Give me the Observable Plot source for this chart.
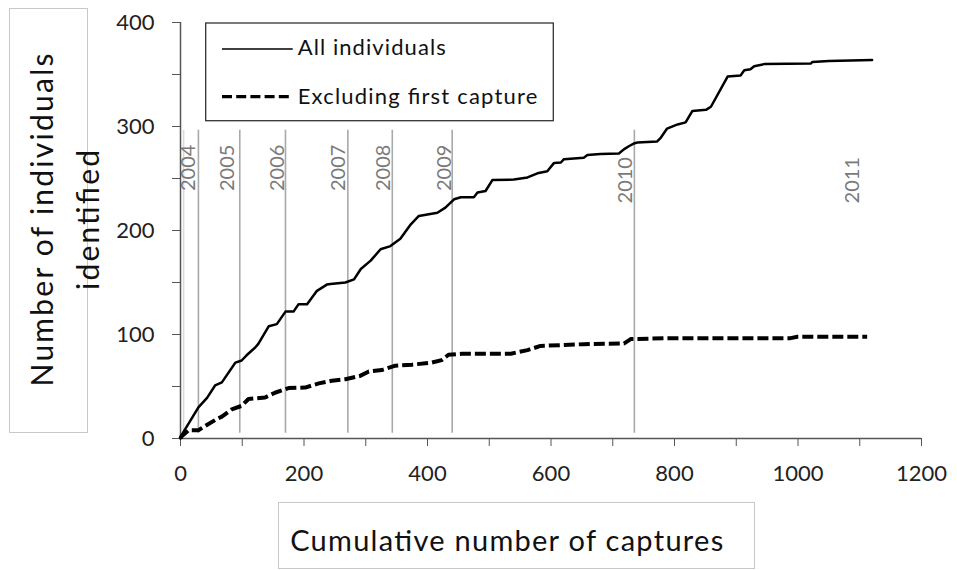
<!DOCTYPE html>
<html><head><meta charset="utf-8">
<script src="https://cdn.jsdelivr.net/npm/d3@7"></script>
<script src="https://cdn.jsdelivr.net/npm/@observablehq/plot@0.6"></script>
<style>
html,body{margin:0;padding:0;background:#fff;}
#chart{width:957px;height:570px;}
</style></head><body><div id="chart"></div>
<script>
// Series: cumulative number of captures (x) vs individuals identified (y)
const allX = [0, 1, 29, 43, 56, 67, 89, 99, 107, 121, 126, 143, 156, 170, 183, 191, 205, 221, 237, 243, 267, 281, 292, 308, 324, 340, 356, 373, 386, 416, 429, 443, 454, 475, 481, 494, 505, 540, 562, 578, 594, 605, 616, 621, 653, 659, 680, 710, 718, 726, 734, 740, 772, 778, 788, 805, 818, 829, 851, 859, 886, 907, 913, 923, 929, 945, 1021, 1023, 1050, 1120];
const allY = [0, 2.6, 30, 39, 51, 54, 73, 75, 80, 87.5, 91, 108, 110, 122, 122, 129, 129, 142, 148, 148.5, 150, 153, 163, 171, 182, 185, 192, 206, 214, 217, 222, 230, 232, 232, 236.5, 238, 248.5, 249, 251, 255, 257, 265, 265.4, 268.6, 270, 272.5, 273.5, 274, 278, 281, 283.6, 284.6, 285.6, 289.4, 298, 302, 304, 315, 316, 319, 348, 349, 354, 355, 358, 360, 360.6, 362, 363, 364];
const exclX = [0, 1, 13, 29, 40, 56, 67, 83, 99, 110, 137, 153, 175, 202, 224, 245, 267, 290, 305, 326, 348, 375, 407, 423, 434, 456, 535, 562, 583, 653, 718, 729, 794, 988, 999, 1112];
const exclY = [0, 1.6, 8, 8, 12, 17.7, 21, 28, 31.4, 38, 39.4, 44, 48.5, 49, 53, 55.5, 57, 60, 64.4, 65.8, 70, 71, 73, 75.4, 80.5, 81.5, 81.5, 85, 89, 90.7, 91.3, 95.6, 96.5, 96.5, 97.8, 97.8];

// Year markers
const years = ["2004", "2005", "2006", "2007", "2008", "2009", "2010", "2011"];
const yearLabelX = [13, 77, 157, 256, 329, 428, 721, 1088];
const yearLabelY = [238, 238, 238, 238, 238, 238, 226, 226];
const yearLineX = [5, 29, 96, 170, 271, 343, 440, 735];

// Axis ticks
const yTicks = [0, 50, 100, 150, 200, 250, 300, 350, 400];
const xTicks = [0, 100, 200, 300, 400, 500, 600, 700, 800, 900, 1000, 1100, 1200];

const seriesNames = ["All individuals", "Excluding first capture"];
const xTitle = "Cumulative number of captures";
const yTitleLines = ["Number of individuals", "identified"];

const allData = allX.map((x, i) => ({x, y: allY[i]}));
const exclData = exclX.map((x, i) => ({x, y: exclY[i]}));

const plot = Plot.plot({
  width: 957, height: 570,
  marginLeft: 180, marginRight: 36, marginTop: 22, marginBottom: 132,
  style: {fontFamily: "Lato, 'Open Sans', sans-serif", fontSize: "22px", background: "#fff", overflow: "visible"},
  x: {domain: [0, 1200]},
  y: {domain: [0, 400]},
  marks: [
    Plot.ruleX(yearLineX, {x: d => d, y1: 5, y2: 296.5, stroke: (d, i) => i === 0 ? "#dadada" : "#a9a9a9", strokeWidth: 1.6}),
    Plot.text(years, {x: (d, i) => yearLabelX[i], y: (d, i) => yearLabelY[i], text: d => d, rotate: -90, textAnchor: "start", fill: "#7a7a7a", fontSize: 20}),
    Plot.axisY({ticks: yTicks, tickSize: 8, tickPadding: 18, tickFormat: d => d % 100 === 0 ? String(d) : "", stroke: "#555", fill: "#222", label: null}),
    Plot.axisX({ticks: xTicks, tickSize: 8, tickPadding: 19, tickFormat: d => d % 200 === 0 ? String(d) : "", stroke: "#555", fill: "#222", label: null}),
    Plot.ruleX([0], {stroke: "#555", strokeWidth: 1.5}),
    Plot.ruleY([0], {stroke: "#555", strokeWidth: 1.5}),
    Plot.line(exclData, {x: "x", y: "y", stroke: "#000", strokeWidth: 4, strokeDasharray: "11,4", strokeLinecap: "butt", strokeLinejoin: "miter"}),
    Plot.line(allData, {x: "x", y: "y", stroke: "#000", strokeWidth: 2.5})
  ]
});

const svg = d3.select(plot);

// Y-axis title box
const yt = svg.append("g");
yt.append("rect").attr("x", 9.5).attr("y", 8.5).attr("width", 78).attr("height", 424)
  .attr("fill", "none").attr("stroke", "#c8c8c8").attr("stroke-width", 1);
[[53, yTitleLines[0], 333], [99, yTitleLines[1], 140]].forEach(([bx, t, len]) => {
  yt.append("text").attr("transform", `translate(${bx},220) rotate(-90)`)
    .attr("text-anchor", "middle").attr("font-size", 30).attr("fill", "#111")
    .attr("textLength", len).text(t);
});

// X-axis title box
const xt = svg.append("g");
xt.append("rect").attr("x", 278.5).attr("y", 502.5).attr("width", 476).attr("height", 66)
  .attr("fill", "#fff").attr("stroke", "#c8c8c8").attr("stroke-width", 1);
xt.append("text").attr("x", 506.7).attr("y", 550.5).attr("text-anchor", "middle")
  .attr("font-size", 29).attr("fill", "#111").attr("textLength", 433).text(xTitle);

// Legend
const lg = svg.append("g");
lg.append("rect").attr("x", 205.7).attr("y", 23).attr("width", 347.6).attr("height", 97.7)
  .attr("fill", "#fff").attr("stroke", "#333").attr("stroke-width", 1.3);
lg.append("line").attr("x1", 222).attr("x2", 292.7).attr("y1", 49).attr("y2", 49)
  .attr("stroke", "#000").attr("stroke-width", 1.6);
lg.append("line").attr("x1", 222).attr("x2", 293).attr("y1", 96.7).attr("y2", 96.7)
  .attr("stroke", "#000").attr("stroke-width", 3.2).attr("stroke-dasharray", "10,4.2");
lg.append("text").attr("x", 297.7).attr("y", 55).attr("text-anchor", "start").attr("font-size", 22).attr("fill", "#111")
  .attr("textLength", 148).text(seriesNames[0]);
lg.append("text").attr("x", 297.7).attr("y", 104).attr("text-anchor", "start").attr("font-size", 22).attr("fill", "#111")
  .attr("textLength", 239.6).text(seriesNames[1]);

document.getElementById("chart").appendChild(plot);
</script>
</body></html>
